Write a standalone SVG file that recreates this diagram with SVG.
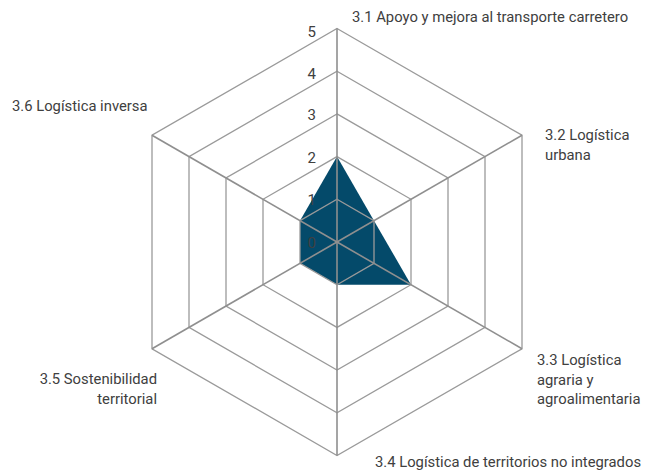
<svg xmlns="http://www.w3.org/2000/svg" width="660" height="474" viewBox="0 0 660 474">
<style>
.grid{fill:none;stroke:#9a9a9a;stroke-width:1.3}
.axis{stroke:#8f8f8f;stroke-width:1.6}
.lbl{font-family:Roboto,"Liberation Sans",sans-serif;font-size:14.8px;fill:#404040}
.tick{font-family:Roboto,"Liberation Sans",sans-serif;font-size:15px;fill:#404040;text-anchor:end}
</style>
<rect width="660" height="474" fill="#ffffff"/>
<g id="data">
<polygon points="337,156.6 374,220.65 411,284.7 337,284.7 300,263.35 300,220.65" fill="#044a6a"/>
</g>
<g id="grid">
<polygon class="grid" points="337,199.3 374,220.65 374,263.35 337,284.7 300,263.35 300,220.65"/>
<polygon class="grid" points="337,156.6 411,199.3 411,284.7 337,327.4 263,284.7 263,199.3"/>
<polygon class="grid" points="337,113.9 448,178 448,306 337,370.1 226,306 226,178"/>
<polygon class="grid" points="337,71.2 485,156.6 485,327.4 337,412.8 189,327.4 189,156.6"/>
<polygon class="grid" points="337,28.5 522,135.25 522,348.75 337,455.5 152,348.75 152,135.25"/>
</g>
<g id="axes">
<line class="axis" x1="337" y1="242" x2="337" y2="28.5"/>
<line class="axis" x1="337" y1="242" x2="522" y2="135.25"/>
<line class="axis" x1="337" y1="242" x2="522" y2="348.75"/>
<line class="axis" x1="337" y1="242" x2="337" y2="455.5"/>
<line class="axis" x1="337" y1="242" x2="152" y2="348.75"/>
<line class="axis" x1="337" y1="242" x2="152" y2="135.25"/>
</g>
<g id="ticks">
<text class="tick" x="316" y="37">5</text>
<text class="tick" x="316" y="79">4</text>
<text class="tick" x="316" y="120">3</text>
<text class="tick" x="316" y="163">2</text>
<text class="tick" x="316" y="205">1</text>
<text class="tick" x="316" y="248">0</text>
</g>
<g id="label-3-1"><text class="lbl" x="352" y="22">3.1 Apoyo y mejora al transporte carretero</text></g>
<g id="label-3-2"><text class="lbl" x="545" y="140">3.2 Logística</text><text class="lbl" x="545" y="160">urbana</text></g>
<g id="label-3-3"><text class="lbl" x="537" y="365">3.3 Logística</text><text class="lbl" x="537" y="385">agraria y</text><text class="lbl" x="537" y="404">agroalimentaria</text></g>
<g id="label-3-4"><text class="lbl" x="375" y="467">3.4 Logística de territorios no integrados</text></g>
<g id="label-3-5"><text class="lbl" x="157" y="384" text-anchor="end">3.5 Sostenibilidad</text><text class="lbl" x="157" y="404" text-anchor="end">territorial</text></g>
<g id="label-3-6"><text class="lbl" x="12" y="111">3.6 Logística inversa</text></g>
</svg>
